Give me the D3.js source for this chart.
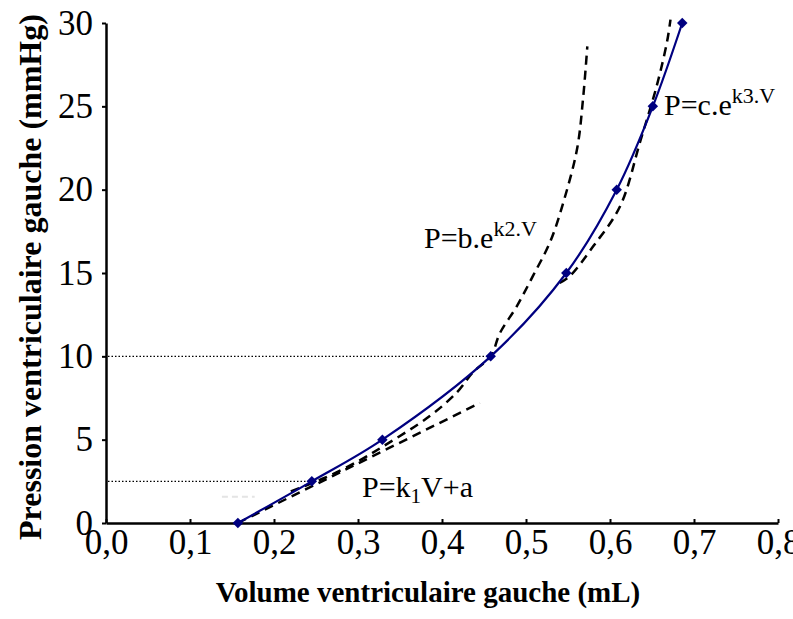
<!DOCTYPE html>
<html>
<head>
<meta charset="utf-8">
<script src="https://cdn.jsdelivr.net/npm/d3@7"></script>
<style>
  body { margin: 0; background: #fff; }
</style>
</head>
<body>
<div id="chart"></div>
<script>
// measured data (volume in mL, pressure in mmHg)
const volume = [0.157, 0.245, 0.329, 0.458, 0.548, 0.608, 0.651, 0.686];
const pressure = [0, 2.5, 5, 10, 15, 20, 25, 30];

// fitted curves
const linFitV = [0.157, 0.445];
const linFitP = [0, 7.2];

const expBV = [0.22, 0.26, 0.30, 0.33, 0.385, 0.418, 0.437, 0.458, 0.469, 0.489, 0.508, 0.529, 0.546, 0.561, 0.568, 0.573];
const expBP = [1.9, 2.7, 3.7, 4.6, 6.4, 7.85, 9.05, 10, 11.4, 13.0, 14.8, 16.9, 19.5, 22.5, 25.5, 28.6];

const expCV = [0.540, 0.552, 0.580, 0.612, 0.636, 0.656, 0.668, 0.672];
const expCP = [14.4, 14.8, 16.6, 19.0, 22.9, 26.3, 28.9, 30.2];

// dotted reference levels
const refP = [10, 2.5];
const refV = [0.458, 0.245];

const xTicks = [0, 0.1, 0.2, 0.3, 0.4, 0.5, 0.6, 0.7, 0.8];
const yTicks = [0, 5, 10, 15, 20, 25, 30];

const width = 793, height = 619;
const margin = {top: 23, right: 15, bottom: 96, left: 106};
const SERIF = "'Liberation Serif', 'Times New Roman', Times, serif";

let svg = d3.select("#chart")
    .append("svg")
    .attr("width", width)
    .attr("height", height)
    .style("font-family", SERIF);

svg.append("rect").attr("width", width).attr("height", height).attr("fill", "#fff");

let x = d3.scaleLinear()
    .domain([0, 0.8])
    .range([margin.left, width - margin.right]);

let y = d3.scaleLinear()
    .domain([0, 30])
    .range([height - margin.bottom, margin.top]);

const fmt = d => d3.format(".1f")(d).replace(".", ",");

// x axis
let xAxis = svg.append("g")
    .attr("transform", `translate(0, ${y(0)})`)
    .call(d3.axisBottom(x).tickValues(xTicks).tickFormat(fmt).tickSizeInner(-4).tickSizeOuter(0).tickPadding(6));

// y axis
let yAxis = svg.append("g")
    .attr("transform", `translate(${x(0)}, 0)`)
    .call(d3.axisLeft(y).tickValues(yTicks).tickSizeInner(4).tickSizeOuter(0).tickPadding(9));

[xAxis, yAxis].forEach(function(a) {
    a.attr("font-family", null).attr("font-size", null);
    a.selectAll("text").style("font-family", SERIF).style("font-size", "35px").attr("fill", "#000");
});

svg.selectAll(".domain").attr("stroke", "#000").attr("stroke-width", 2.5);
svg.selectAll(".tick line").attr("stroke", "#000").attr("stroke-width", 2);

// dotted lines
refP.forEach(function(p, i) {
    svg.append("line")
        .attr("x1", x(0) + 2).attr("x2", x(refV[i]))
        .attr("y1", y(p)).attr("y2", y(p))
        .attr("stroke", "#000")
        .attr("stroke-width", 1.2)
        .attr("stroke-dasharray", "1.5,2");
});

// faint artefact near bottom left
svg.append("line")
    .attr("x1", x(0.138)).attr("x2", x(0.177))
    .attr("y1", y(1.58)).attr("y2", y(1.58))
    .attr("stroke", "#e4e4e4")
    .attr("stroke-width", 2)
    .attr("stroke-dasharray", "6,4");

// dashed fits
let dashLine = d3.line()
    .x(d => x(d[0]))
    .y(d => y(d[1]))
    .curve(d3.curveCatmullRom.alpha(0.5));

[[linFitV, linFitP], [expBV, expBP], [expCV, expCP]].forEach(function(s) {
    svg.append("path")
        .datum(d3.zip(s[0], s[1]))
        .attr("fill", "none")
        .attr("stroke", "#000")
        .attr("stroke-width", 2.5)
        .attr("stroke-dasharray", "9,6")
        .attr("d", dashLine);
});

// measured curve
svg.append("path")
    .datum(d3.zip(volume, pressure))
    .attr("fill", "none")
    .attr("stroke", "#000080")
    .attr("stroke-width", 2.2)
    .attr("d", dashLine);

svg.selectAll(".pt")
    .data(d3.zip(volume, pressure))
    .enter()
    .append("path")
    .attr("class", "pt")
    .attr("transform", d => `translate(${x(d[0])}, ${y(d[1])})`)
    .attr("d", d3.symbol().type(d3.symbolDiamond2).size(70))
    .attr("fill", "#000080");

// annotations
function formula(xp, yp, main, sup, sub, rest) {
    let t = svg.append("text")
        .attr("x", xp).attr("y", yp)
        .style("font-size", "30px");
    t.append("tspan").text(main);
    if (sup) {
        t.append("tspan").attr("dy", -12).style("font-size", "22px").text(sup);
    }
    if (sub) {
        t.append("tspan").attr("dy", 6).style("font-size", "21px").text(sub);
        t.append("tspan").attr("dy", -6).text(rest);
    }
}
formula(424, 248, "P=b.e", "k2.V");
formula(664, 115, "P=c.e", "k3.V");
formula(362, 497, "P=k", null, "1", "V+a");

// axis titles
svg.append("text")
    .attr("x", 428)
    .attr("y", 602)
    .style("text-anchor", "middle")
    .style("font-size", "29px")
    .style("font-weight", "bold")
    .text("Volume ventriculaire gauche (mL)");

svg.append("text")
    .attr("transform", "translate(41, 277) rotate(-90)")
    .style("text-anchor", "middle")
    .style("font-size", "32px")
    .style("font-weight", "bold")
    .text("Pression ventriculaire gauche (mmHg)");
</script>
</body>
</html>
